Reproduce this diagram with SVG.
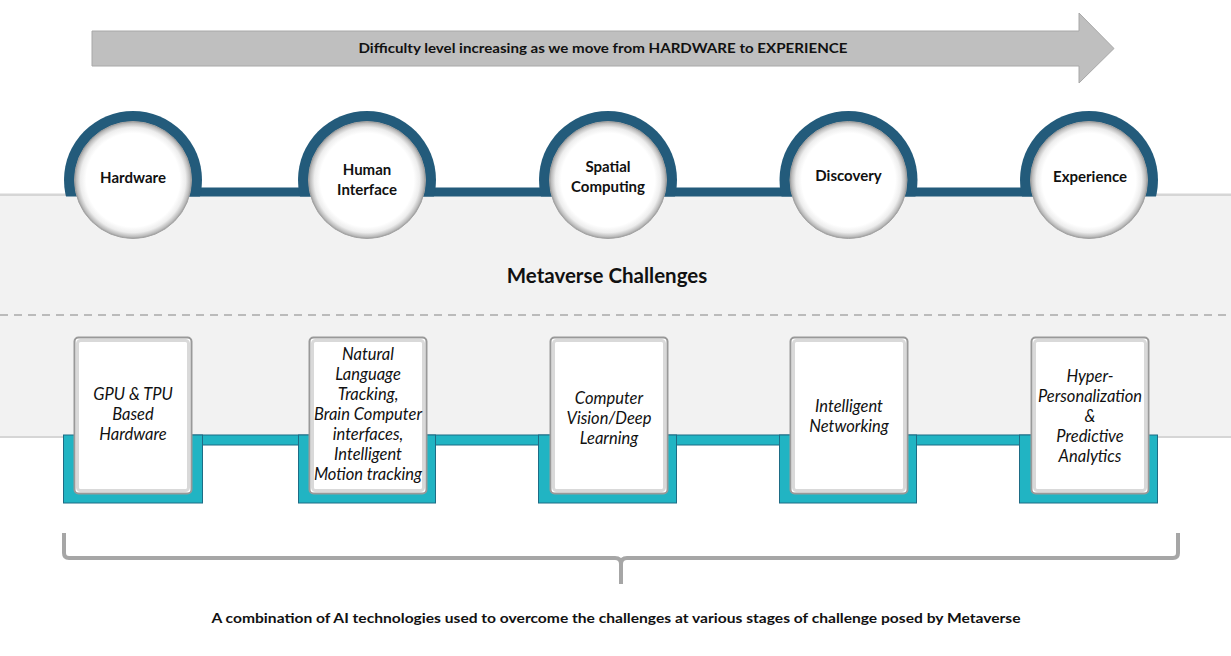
<svg xmlns="http://www.w3.org/2000/svg" width="1231" height="656" viewBox="0 0 1231 656">
<style>
.lbl{font-family:Lato,"Open Sans","Liberation Sans",sans-serif;font-weight:bold;font-size:15px;fill:#111;text-anchor:middle}
.it{font-family:Lato,"Open Sans","Liberation Sans",sans-serif;font-style:italic;font-size:16.5px;fill:#111;text-anchor:middle}
.big{font-family:Lato,"Open Sans","Liberation Sans",sans-serif;font-weight:bold;fill:#111;text-anchor:middle}
.dark{fill:#235b7b}
.teal{fill:#21b4c3;stroke:#1d6c85;stroke-width:1}
.wbox{fill:#fff;stroke:#999;stroke-width:2}
.winner{fill:none;stroke:#d9d9d9;stroke-width:3}
.wcirc{fill:url(#cg);stroke:#a3a3a3;stroke-width:1}
</style>
<defs>
<radialGradient id="cg" cx="50%" cy="50%" r="50%">
<stop offset="0" stop-color="#fff"/>
<stop offset="0.8" stop-color="#fff"/>
<stop offset="0.9" stop-color="#ededed"/>
<stop offset="0.97" stop-color="#bcbcbc"/>
<stop offset="1" stop-color="#9c9c9c"/>
</radialGradient>
<clipPath id="top"><rect x="0" y="0" width="1231" height="196.5"/></clipPath>
</defs>
<rect width="1231" height="656" fill="#fff"/>
<!-- gray band -->
<g id="band">
<rect x="0" y="196" width="1231" height="240" fill="#f2f2f2"/>
<rect x="0" y="193.5" width="1231" height="2.5" fill="#d6d6d6"/>
<rect x="0" y="436" width="1231" height="2" fill="#d6d6d6"/>
<line x1="0" y1="315" x2="1231" y2="315" stroke="#a9a9a9" stroke-width="1.5" stroke-dasharray="8 6"/>
<text class="big" x="607" y="283" font-size="20.5">Metaverse Challenges</text>
</g>
<!-- top arrow -->
<g id="arrow">
<path d="M92,31 H1079 V13 L1114,48.5 L1079,83 V66 H92 Z" fill="#bfbfbf" stroke="#a8a8a8" stroke-width="1"/>
<text class="big" x="603" y="53" font-size="14" textLength="489" lengthAdjust="spacingAndGlyphs">Difficulty level increasing as we move from HARDWARE to EXPERIENCE</text>
</g>
<!-- connectors -->
<g id="connectors">
<rect class="dark" x="133" y="187.5" width="956" height="9"/>
<rect class="teal" x="133" y="435" width="957" height="10"/>
<path d="M64,533 V553 Q64,558 69,558 H615 Q621,558 621,564 V584 M621,564 Q621,558 627,558 H1173 Q1178,558 1178,553 V533" fill="none" stroke="#a6a6a6" stroke-width="4" stroke-linejoin="round"/>
<text class="big" x="616" y="623" font-size="14" textLength="809" lengthAdjust="spacingAndGlyphs">A combination of AI technologies used to overcome the challenges at various stages of challenge posed by Metaverse</text>
</g>
<!-- stage nodes -->
<g id="node-hardware">
<circle class="dark" cx="133" cy="180" r="69" clip-path="url(#top)"/>
<circle class="wcirc" cx="133" cy="180" r="58.5"/>
<text class="lbl" x="133" y="183">Hardware</text>
</g>
<g id="node-human-interface">
<circle class="dark" cx="367" cy="180" r="69" clip-path="url(#top)"/>
<circle class="wcirc" cx="367" cy="180" r="58.5"/>
<text class="lbl" x="367" y="175">Human</text>
<text class="lbl" x="367" y="195">Interface</text>
</g>
<g id="node-spatial-computing">
<circle class="dark" cx="608" cy="180" r="69" clip-path="url(#top)"/>
<circle class="wcirc" cx="608" cy="180" r="58.5"/>
<text class="lbl" x="608" y="172">Spatial</text>
<text class="lbl" x="608" y="192">Computing</text>
</g>
<g id="node-discovery">
<circle class="dark" cx="848.5" cy="180" r="69" clip-path="url(#top)"/>
<circle class="wcirc" cx="848.5" cy="180" r="58.5"/>
<text class="lbl" x="848.5" y="181">Discovery</text>
</g>
<g id="node-experience">
<circle class="dark" cx="1089" cy="180" r="69" clip-path="url(#top)"/>
<circle class="wcirc" cx="1089" cy="180" r="58.5"/>
<text class="lbl" x="1090" y="182">Experience</text>
</g>
<!-- technology boxes -->
<g id="box-gpu">
<rect class="teal" x="63.5" y="435" width="139" height="68"/>
<rect class="wbox" x="74.5" y="337.5" width="117" height="156" rx="4"/>
<rect class="winner" x="77.5" y="340.5" width="111" height="150" rx="3"/>
<text class="it" x="133" y="400">GPU &amp; TPU</text>
<text class="it" x="133" y="420">Based</text>
<text class="it" x="133" y="440">Hardware</text>
</g>
<g id="box-nlp">
<rect class="teal" x="298.5" y="435" width="137" height="68"/>
<rect class="wbox" x="309.5" y="337.5" width="117" height="156" rx="4"/>
<rect class="winner" x="312.5" y="340.5" width="111" height="150" rx="3"/>
<text class="it" x="368" y="360">Natural</text>
<text class="it" x="368" y="380">Language</text>
<text class="it" x="368" y="400">Tracking,</text>
<text class="it" x="368" y="420">Brain Computer</text>
<text class="it" x="368" y="440">interfaces,</text>
<text class="it" x="368" y="460">Intelligent</text>
<text class="it" x="368" y="480">Motion tracking</text>
</g>
<g id="box-cv">
<rect class="teal" x="538.5" y="435" width="138" height="68"/>
<rect class="wbox" x="550.5" y="337.5" width="117" height="156" rx="4"/>
<rect class="winner" x="553.5" y="340.5" width="111" height="150" rx="3"/>
<text class="it" x="609" y="404">Computer</text>
<text class="it" x="609" y="424">Vision/Deep</text>
<text class="it" x="609" y="444">Learning</text>
</g>
<g id="box-networking">
<rect class="teal" x="779.5" y="435" width="137" height="68"/>
<rect class="wbox" x="790.5" y="337.5" width="117" height="156" rx="4"/>
<rect class="winner" x="793.5" y="340.5" width="111" height="150" rx="3"/>
<text class="it" x="849" y="412">Intelligent</text>
<text class="it" x="849" y="432">Networking</text>
</g>
<g id="box-personalization">
<rect class="teal" x="1019.5" y="435" width="138" height="68"/>
<rect class="wbox" x="1031.5" y="337.5" width="117" height="156" rx="4"/>
<rect class="winner" x="1034.5" y="340.5" width="111" height="150" rx="3"/>
<text class="it" x="1090" y="382">Hyper-</text>
<text class="it" x="1090" y="402">Personalization</text>
<text class="it" x="1090" y="422">&amp;</text>
<text class="it" x="1090" y="442">Predictive</text>
<text class="it" x="1090" y="462">Analytics</text>
</g>
</svg>
